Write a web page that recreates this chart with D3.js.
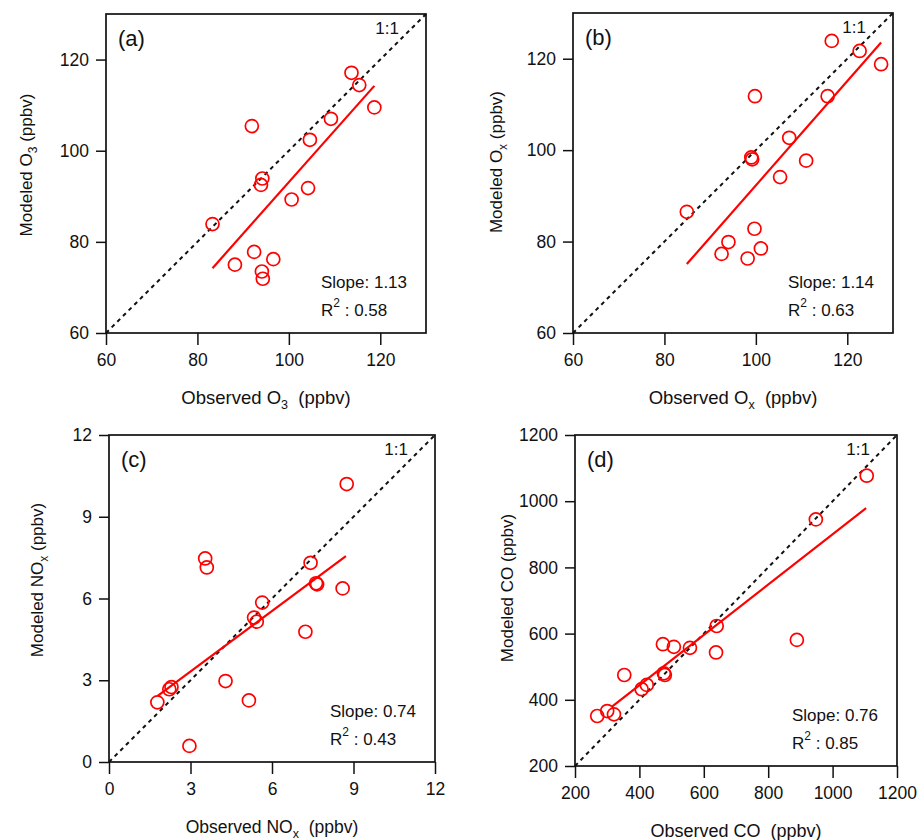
<!DOCTYPE html>
<html>
<head>
<meta charset="utf-8">
<script src="https://cdn.jsdelivr.net/npm/d3@7"></script>
<style>
  body { margin: 0; background: #fff; }
  svg text { font-family: "Liberation Sans", Arial, sans-serif; fill: #111; white-space: pre; }
</style>
</head>
<body>
<div id="chart"></div>
<script>
// observed vs modeled values
var obsO3  = [113.7, 115.4, 118.7, 109.2, 104.6, 91.9, 94.2, 93.9, 104.2, 100.6, 83.3, 92.4, 96.6, 88.2, 94.1, 94.3];
var modO3  = [117.1, 114.4, 109.5, 107.0, 102.4, 105.4, 93.9, 92.5, 91.8, 89.3, 83.9, 77.8, 76.2, 75.0, 73.5, 71.9];

var obsOx  = [116.6, 122.7, 127.4, 99.8, 115.7, 107.3, 99.0, 99.2, 111.0, 105.3, 84.9, 99.7, 94.0, 92.5, 101.1, 98.2];
var modOx  = [123.9, 121.7, 118.8, 111.8, 111.8, 102.7, 98.4, 98.0, 97.7, 94.1, 86.5, 82.8, 79.9, 77.3, 78.5, 76.3];

var obsNOx = [8.75, 3.54, 3.60, 7.42, 7.62, 7.66, 8.60, 5.64, 5.34, 5.44, 7.23, 4.29, 5.15, 2.22, 2.30, 1.78, 2.96];
var modNOx = [10.2, 7.47, 7.14, 7.31, 6.56, 6.52, 6.37, 5.85, 5.30, 5.15, 4.78, 2.97, 2.26, 2.67, 2.75, 2.19, 0.59];

var obsCO  = [1106, 948, 640, 889, 638, 473, 507, 557, 476, 479, 353, 407, 423, 269, 300, 321];
var modCO  = [1077, 945, 623, 581, 543, 568, 560, 557, 480, 475, 475, 432, 445, 351, 366, 356];

// regression fits
var fitSlope     = [1.13, 1.14, 0.74, 0.76];
var fitIntercept = [-19.9, -21.7, 1.1, 140];
var fitFrom      = [83.3, 84.9, 1.78, 314];
var fitTo        = [118.7, 127.4, 8.72, 1104];
var fitR2        = [0.58, 0.63, 0.43, 0.85];

// axes
var panelTags  = ["(a)", "(b)", "(c)", "(d)"];
var axisMin    = [60, 60, 0, 200];
var axisMax    = [130, 130, 12, 1200];
var axisTicks  = [[60, 80, 100, 120], [60, 80, 100, 120], [0, 3, 6, 9, 12], [200, 400, 600, 800, 1000, 1200]];
var species    = [["O", "3"], ["O", "x"], ["NO", "x"], ["CO", ""]];

var obsAll = [obsO3, obsOx, obsNOx, obsCO];
var modAll = [modO3, modOx, modNOx, modCO];

// layout (pixel boxes of each plot frame)
var boxes = [
  {l: 106, t: 14,  r: 426, b: 333, yl: 74, yc: 165, fs: 18.5},
  {l: 573, t: 13,  r: 893, b: 333, yl: 71, yc: 162, fs: 18.5},
  {l: 109, t: 435, r: 435, b: 762, yl: 66, yc: 580, fs: 17.5},
  {l: 575, t: 435, r: 897, b: 766, yl: 62, yc: 588, fs: 18}
];

var svg = d3.select("#chart").append("svg")
  .attr("width", 917)
  .attr("height", 840);

boxes.forEach(function(bx, i) {
  var x = d3.scaleLinear().domain([axisMin[i], axisMax[i]]).range([bx.l, bx.r]);
  var y = d3.scaleLinear().domain([axisMin[i], axisMax[i]]).range([bx.b, bx.t]);
  var g = svg.append("g");

  // axes
  var xa = g.append("g")
    .attr("transform", "translate(0," + bx.b + ")")
    .call(d3.axisBottom(x).tickValues(axisTicks[i]).tickSize(12).tickPadding(9).tickFormat(d3.format("d")));
  var ya = g.append("g")
    .attr("transform", "translate(" + bx.l + ",0)")
    .call(d3.axisLeft(y).tickValues(axisTicks[i]).tickSize(10).tickPadding(7).tickFormat(d3.format("d")));
  [xa, ya].forEach(function(a) {
    a.select(".domain").remove();
    a.selectAll("line").attr("stroke", "#111").attr("stroke-width", 1.5);
    a.selectAll("text").style("font-size", "17.5px").attr("fill", "#111");
  });

  // frame
  g.append("rect")
    .attr("x", bx.l).attr("y", bx.t)
    .attr("width", bx.r - bx.l).attr("height", bx.b - bx.t)
    .attr("fill", "none").attr("stroke", "#111").attr("stroke-width", 1.7);

  // 1:1 line
  g.append("line")
    .attr("x1", x(axisMin[i])).attr("y1", y(axisMin[i]))
    .attr("x2", x(axisMax[i])).attr("y2", y(axisMax[i]))
    .attr("stroke", "#111").attr("stroke-width", 2)
    .attr("stroke-dasharray", "4,4");

  // fit line
  g.append("line")
    .attr("x1", x(fitFrom[i])).attr("y1", y(fitSlope[i] * fitFrom[i] + fitIntercept[i]))
    .attr("x2", x(fitTo[i])).attr("y2", y(fitSlope[i] * fitTo[i] + fitIntercept[i]))
    .attr("stroke", "#f00").attr("stroke-width", 2.2);

  // points
  g.selectAll("circle.pt")
    .data(obsAll[i].map(function(v, k) { return [v, modAll[i][k]]; }))
    .enter().append("circle")
    .attr("class", "pt")
    .attr("cx", function(d) { return x(d[0]); })
    .attr("cy", function(d) { return y(d[1]); })
    .attr("r", 6.5)
    .attr("fill", "none")
    .attr("stroke", "#f00")
    .attr("stroke-width", 1.7);

  // labels inside
  g.append("text")
    .attr("x", bx.l + 12).attr("y", bx.t + 32)
    .style("font-size", "22px")
    .text(panelTags[i]);

  g.append("text")
    .attr("x", bx.r - 27).attr("y", bx.t + 20)
    .attr("text-anchor", "end")
    .style("font-size", "17px")
    .text("1:1");

  g.append("text")
    .attr("x", bx.r - 105).attr("y", bx.b - 45)
    .style("font-size", "17px")
    .text("Slope: " + fitSlope[i].toFixed(2));

  var rt = g.append("text")
    .attr("x", bx.r - 105).attr("y", bx.b - 17)
    .style("font-size", "17px");
  rt.append("tspan").text("R");
  rt.append("tspan").attr("dy", -9).style("font-size", "12px").text("2");
  rt.append("tspan").attr("dy", 9).text(" : " + fitR2[i].toFixed(2));

  // axis titles
  var xt = g.append("text")
    .attr("x", (bx.l + bx.r) / 2).attr("y", bx.b + 71)
    .attr("text-anchor", "middle")
    .style("font-size", bx.fs + "px");
  xt.append("tspan").text("Observed " + species[i][0]);
  if (species[i][1]) {
    xt.append("tspan").attr("dy", 5).style("font-size", "12.5px").text(species[i][1]);
    xt.append("tspan").attr("dy", -5).text("  (ppbv)");
  } else {
    xt.append("tspan").text("  (ppbv)");
  }

  var yt = g.append("text")
    .attr("transform", "translate(" + (bx.l - bx.yl) + "," + bx.yc + ") rotate(-90)")
    .attr("text-anchor", "middle")
    .style("font-size", "17px");
  yt.append("tspan").text("Modeled " + species[i][0]);
  if (species[i][1]) {
    yt.append("tspan").attr("dy", 5).style("font-size", "12px").text(species[i][1]);
    yt.append("tspan").attr("dy", -5).text(" (ppbv)");
  } else {
    yt.append("tspan").text(" (ppbv)");
  }
});
</script>
</body>
</html>
